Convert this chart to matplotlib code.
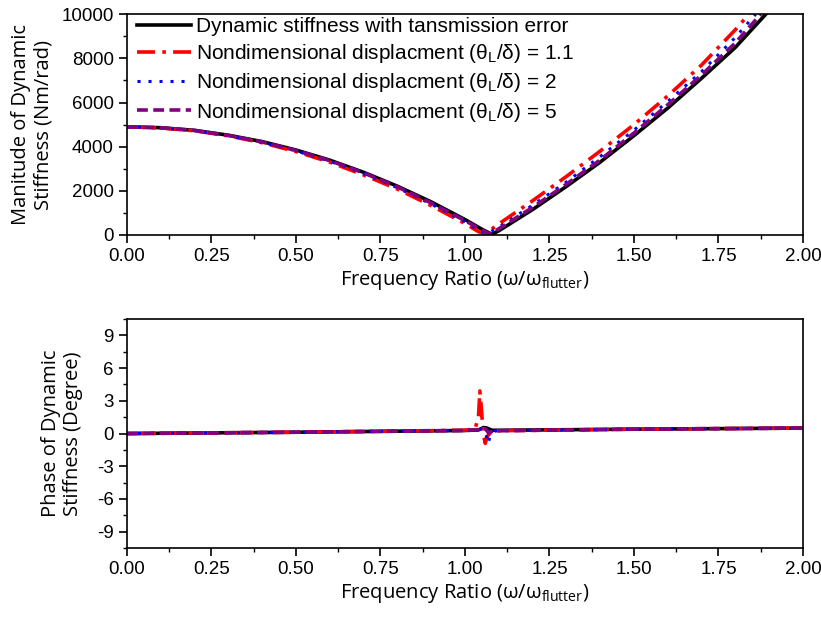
import matplotlib.pyplot as plt
from matplotlib.ticker import MultipleLocator

# frequency ratio samples and magnitude (Nm/rad)
r_te = [0.0, 0.1, 0.2, 0.3, 0.4, 0.5, 0.6, 0.7, 0.8, 0.9, 1.0, 1.05, 1.08,
        1.1, 1.2, 1.3, 1.4, 1.5, 1.6, 1.7, 1.8, 1.89]
mag_te = [4900, 4860, 4740, 4520, 4230, 3850, 3390, 2840, 2210, 1500, 700, 260, 30,
          190, 1150, 2200, 3300, 4500, 5750, 7100, 8500, 10000]

r_11 = [0.0, 0.1, 0.2, 0.3, 0.4, 0.5, 0.6, 0.7, 0.8, 0.9, 1.0, 1.04, 1.06,
        1.1, 1.2, 1.3, 1.4, 1.5, 1.6, 1.7, 1.8, 1.84]
mag_11 = [4900, 4850, 4720, 4490, 4180, 3780, 3300, 2720, 2080, 1330, 520, 150, 50,
          500, 1550, 2650, 3800, 5000, 6300, 7700, 9300, 10000]

r_2 = [0.0, 0.1, 0.2, 0.3, 0.4, 0.5, 0.6, 0.7, 0.8, 0.9, 1.0, 1.04, 1.065,
       1.1, 1.2, 1.3, 1.4, 1.5, 1.6, 1.7, 1.8, 1.86]
mag_2 = [4900, 4855, 4730, 4500, 4200, 3810, 3340, 2780, 2140, 1400, 600, 200, 60,
         350, 1350, 2400, 3550, 4750, 6050, 7400, 8950, 10000]

r_5 = [0.0, 0.1, 0.2, 0.3, 0.4, 0.5, 0.6, 0.7, 0.8, 0.9, 1.0, 1.05, 1.075,
       1.1, 1.2, 1.3, 1.4, 1.5, 1.6, 1.7, 1.8, 1.875]
mag_5 = [4900, 4858, 4735, 4510, 4215, 3830, 3370, 2810, 2180, 1450, 650, 230, 40,
         280, 1250, 2300, 3400, 4620, 5900, 7250, 8700, 10000]

# phase (degree)
ph_r_te = [0.0, 0.5, 1.0, 1.04, 1.055, 1.065, 1.08, 1.1, 1.5, 2.0]
ph_te = [0.0, 0.12, 0.28, 0.33, 0.55, 0.5, 0.3, 0.3, 0.4, 0.5]

ph_r_11 = [0.0, 0.5, 1.0, 1.03, 1.04, 1.044, 1.048, 1.052, 1.056, 1.06, 1.065, 1.08, 1.5, 2.0]
ph_11 = [0.0, 0.12, 0.3, 0.45, 1.5, 3.9, 2.5, 0.8, -0.3, -0.9, -0.3, 0.25, 0.4, 0.5]

ph_r_2 = [0.0, 0.5, 1.0, 1.05, 1.06, 1.068, 1.075, 1.09, 1.5, 2.0]
ph_2 = [0.0, 0.12, 0.28, 0.4, 0.2, -0.9, -0.2, 0.25, 0.4, 0.5]

ph_r_5 = [0.0, 0.5, 1.0, 1.05, 1.06, 1.07, 1.085, 1.5, 2.0]
ph_5 = [0.0, 0.12, 0.28, 0.35, 0.45, 0.05, 0.25, 0.4, 0.5]

labels = ['Dynamic stiffness with tansmission error',
          r'Nondimensional displacment ($\mathregular{\theta_L/\delta}$) = 1.1',
          r'Nondimensional displacment ($\mathregular{\theta_L/\delta}$) = 2',
          r'Nondimensional displacment ($\mathregular{\theta_L/\delta}$) = 5']

plt.rcParams['font.family'] = ['Liberation Sans', 'DejaVu Sans']
plt.rcParams['mathtext.fontset'] = 'custom'
plt.rcParams['mathtext.rm'] = 'Liberation Sans'
plt.rcParams['mathtext.it'] = 'Liberation Sans'
plt.rcParams['axes.unicode_minus'] = False

fig = plt.figure(figsize=(8.21, 6.2), dpi=100)
ax1 = fig.add_axes([0.1547, 0.621, 0.8233, 0.356])
ax2 = fig.add_axes([0.1547, 0.116, 0.8233, 0.3695])

styles = [dict(color='black', lw=2.6, ls='-'),
          dict(color='red', lw=2.6, ls=(0, (5, 2, 1, 2))),
          dict(color='blue', lw=2.2, ls=(0, (1, 2.6))),
          dict(color='purple', lw=2.6, ls=(0, (3, 1.5)))]

for (x, y), st, lab in zip([(r_te, mag_te), (r_11, mag_11), (r_2, mag_2), (r_5, mag_5)],
                           styles, labels):
    ax1.plot(x, y, label=lab, **st)

for (x, y), st in zip([(ph_r_te, ph_te), (ph_r_11, ph_11), (ph_r_2, ph_2), (ph_r_5, ph_5)],
                      styles):
    ax2.plot(x, y, **st)

xlab = r'Frequency Ratio ($\mathregular{\omega/\omega_{flutter}}$)'
ax1.set_xlim(0, 2)
ax1.set_ylim(0, 10000)
ax1.set_yticks([0, 2000, 4000, 6000, 8000, 10000])
ax1.yaxis.set_minor_locator(MultipleLocator(1000))
ax1.set_ylabel('Manitude of Dynamic\nStiffness (Nm/rad)', fontsize=14.5, family='Open Sans',
               linespacing=1.15, labelpad=6)
ax1.legend(loc='upper left', bbox_to_anchor=(0.007, 1.012), frameon=False, fontsize=15,
           handlelength=2.6, borderaxespad=0.0, borderpad=0.25, labelspacing=0.3,
           handletextpad=0.25)

ax2.set_xlim(0, 2)
ax2.set_ylim(-10.5, 10.5)
ax2.set_yticks([-9, -6, -3, 0, 3, 6, 9])
ax2.yaxis.set_minor_locator(MultipleLocator(1.5))
ax2.set_ylabel('Phase of Dynamic\nStiffness (Degree)', fontsize=14.5, family='Open Sans',
               linespacing=1.15, labelpad=10)

for ax in (ax1, ax2):
    ax.set_xticks([0, 0.25, 0.5, 0.75, 1.0, 1.25, 1.5, 1.75, 2.0])
    ax.set_xticklabels(['0.00', '0.25', '0.50', '0.75', '1.00', '1.25', '1.50', '1.75', '2.00'])
    ax.xaxis.set_minor_locator(MultipleLocator(0.125))
    ax.set_xlabel(xlab, fontsize=14.5, family='Open Sans', labelpad=3)
    ax.tick_params(which='major', direction='out', length=6, width=1.2, labelsize=13.5)
    ax.tick_params(which='minor', direction='out', length=3, width=1.0)
    for s in ax.spines.values():
        s.set_linewidth(1.2)

fig.savefig('out.png', dpi=100)
